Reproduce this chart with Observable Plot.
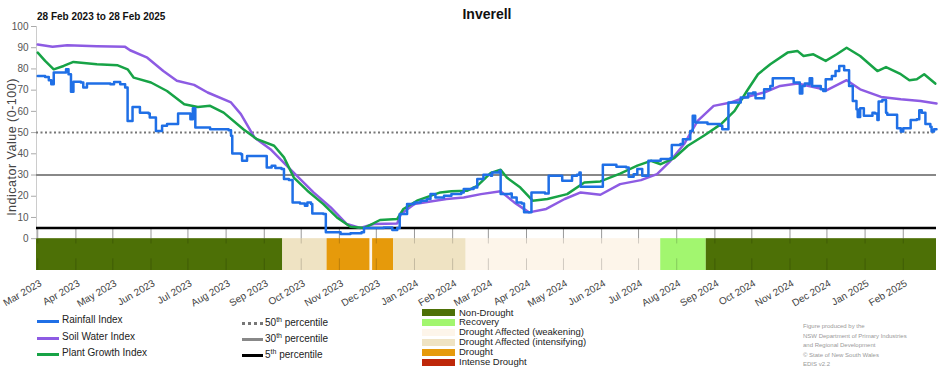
<!DOCTYPE html>
<html><head><meta charset="utf-8">
<script src="https://cdn.jsdelivr.net/npm/d3@7"></script>
<script src="https://cdn.jsdelivr.net/npm/@observablehq/plot@0.6"></script>
<style>
body{margin:0;background:#fff;font-family:"Liberation Sans",Arial,sans-serif;}
#wrap{position:relative;width:952px;height:370px;overflow:hidden;background:#fff;}
#wrap svg{position:absolute;left:0;top:0;}
.abs{position:absolute;white-space:nowrap;}
.title{left:0;width:974px;text-align:center;top:6px;font-size:14px;font-weight:bold;color:#111;}
.sub{left:37px;top:11px;font-size:10px;font-weight:bold;color:#111;}
.ylab{left:12px;top:147px;font-size:12.5px;letter-spacing:0.5px;color:#444;transform:translate(-50%,-50%) rotate(-90deg);}
.leg{font-size:10px;color:#222;line-height:12px;}
.leg sup{font-size:7px;vertical-align:top;position:relative;top:-3px;}
.ln{position:absolute;width:22px;height:0;}
.dl{font-size:9.5px;color:#222;line-height:10px;}
.sw{position:absolute;width:33px;height:7px;}
.cred{font-size:6px;color:#999;line-height:9.6px;}
</style></head><body><div id="wrap"></div>
<script>
// ---------------- data ----------------
const rainfallIndex = [
["2023-03-01",76.7],["2023-03-07",76.2],["2023-03-10",74.7],["2023-03-12",72.8],["2023-03-14",78.3],["2023-03-22",78.3],["2023-03-24",79.8],["2023-03-26",77.5],["2023-03-28",69.3],["2023-03-30",74],
["2023-04-05",73.6],["2023-04-07",71.2],["2023-04-10",73.1],["2023-04-29",72.8],["2023-05-02",73.9],["2023-05-07",72.8],["2023-05-11",71.2],["2023-05-13",55.5],["2023-05-15",55.5],["2023-05-17",62.1],
["2023-05-22",62.1],["2023-05-23",59.4],["2023-05-30",59],["2023-05-31",57.1],["2023-06-04",57.1],["2023-06-05",50.8],["2023-06-09",50.8],["2023-06-10",53.2],["2023-06-14",54],["2023-06-22",54],
["2023-06-23",59],["2023-07-02",59],["2023-07-03",56.3],["2023-07-05",61.5],["2023-07-07",52.4],["2023-07-19",51.6],["2023-08-03",51.1],["2023-08-05",48.5],["2023-08-06",40.2],["2023-08-13",39.8],
["2023-08-14",36.7],["2023-08-17",36.7],["2023-08-18",39],["2023-09-01",39],["2023-09-03",33.6],["2023-09-07",34.4],["2023-09-10",33.3],["2023-09-15",32.8],["2023-09-17",28.1],["2023-09-21",27.6],
["2023-09-24",17.1],["2023-09-30",16.6],["2023-10-04",15.5],["2023-10-06",17.1],["2023-10-09",16.3],["2023-10-10",11.9],["2023-10-19",11.6],["2023-10-21",3],["2023-11-02",2.2],["2023-11-10",2.5],
["2023-11-19",3],["2023-11-21",5],["2023-11-29",5],["2023-12-07",5.3],["2023-12-14",4.1],["2023-12-18",5],["2023-12-20",11.6],["2023-12-26",16.3],["2024-01-01",17.1],["2024-01-06",17.9],
["2024-01-11",18.7],["2024-01-14",21],["2024-01-18",19.4],["2024-01-25",20.2],["2024-01-31",21],["2024-02-08",21.8],["2024-02-10",23.4],["2024-02-18",24.1],["2024-02-21",28.1],["2024-02-26",30.1],
["2024-03-03",29.6],["2024-03-04",31.2],["2024-03-10",32],["2024-03-11",21],["2024-03-19",21.3],["2024-03-20",19.4],["2024-03-23",19.4],["2024-03-24",17.1],["2024-03-28",16.6],["2024-03-30",12.4],
["2024-04-04",12.4],["2024-04-05",21.8],["2024-04-16",21.3],["2024-04-19",29.6],["2024-04-28",29.6],["2024-04-30",27.3],["2024-05-07",27.3],["2024-05-08",29.6],["2024-05-12",30.1],["2024-05-14",31.2],
["2024-05-15",24.5],["2024-05-31",24.5],["2024-06-02",34.8],["2024-06-13",33.9],["2024-06-21",33.6],["2024-06-23",29.2],["2024-06-27",30.4],["2024-06-30",32.8],["2024-07-04",29.6],["2024-07-08",29.6],
["2024-07-09",36.7],["2024-07-19",37.5],["2024-07-27",38],["2024-07-28",44.2],["2024-08-04",44.6],["2024-08-06",46.9],["2024-08-11",46.9],["2024-08-12",50.8],["2024-08-14",57.9],["2024-08-16",54.7],
["2024-08-20",54.7],["2024-08-26",54],["2024-09-05",53.2],["2024-09-07",51.6],["2024-09-11",51.6],["2024-09-12",64.2],["2024-09-19",64.2],["2024-09-22",66.5],["2024-09-27",66.5],["2024-09-28",68.4],
["2024-10-02",68.9],["2024-10-04",66.2],["2024-10-09",66.2],["2024-10-11",70.4],["2024-10-16",72],["2024-10-18",75.6],["2024-11-03",75.6],["2024-11-04",73.6],["2024-11-08",73.6],["2024-11-09",68.4],
["2024-11-11",72],["2024-11-13",73.1],["2024-11-16",72.8],["2024-11-17",75.6],["2024-11-19",72],["2024-11-23",72],["2024-11-26",70.4],["2024-11-28",69.6],["2024-11-30",75.1],["2024-12-05",76.7],
["2024-12-08",79],["2024-12-11",81.4],["2024-12-14",81.4],["2024-12-15",79.4],["2024-12-18",79.4],["2024-12-19",72],["2024-12-22",64.9],["2024-12-25",61],["2024-12-26",57.4],["2024-12-28",61.5],
["2024-12-31",57.9],["2025-01-04",57.9],["2025-01-07",59.4],["2025-01-09",59],["2025-01-11",55.9],["2025-01-12",64.6],["2025-01-15",65.3],["2025-01-18",59.4],["2025-01-19",58.4],["2025-01-26",58.4],
["2025-01-27",52.1],["2025-01-30",50.5],["2025-02-01",52.1],["2025-02-05",52.1],["2025-02-07",55.9],["2025-02-12",56.3],["2025-02-14",60.5],["2025-02-16",59.4],["2025-02-19",54],["2025-02-23",52.7],
["2025-02-24",50.5],["2025-02-26",51.6],["2025-02-28",51.6]
];
const soilWaterIndex = [
["2023-03-01",91.5],["2023-03-13",90.5],["2023-03-25",91.2],["2023-04-18",90.7],["2023-05-11",90.4],["2023-05-15",88.8],["2023-05-29",85.3],["2023-06-11",79],["2023-06-22",74.4],["2023-07-06",72.5],
["2023-07-17",68.9],["2023-08-05",64.2],["2023-08-13",58.7],["2023-08-24",47.7],["2023-09-06",42.2],["2023-09-22",32.8],["2023-10-11",21.8],["2023-10-25",14.7],["2023-11-07",6.9],["2023-11-18",5],
["2023-11-29",6.9],["2023-12-18",7.2],["2023-12-21",11.6],["2024-01-01",16.3],["2024-01-27",18.7],["2024-02-10",19.4],["2024-02-24",21],["2024-03-11",22.3],["2024-03-22",17.1],["2024-04-03",12.4],
["2024-04-17",14],["2024-05-02",18.7],["2024-05-15",21.8],["2024-05-31",20.7],["2024-06-16",25.7],["2024-07-03",27.6],["2024-07-16",30.4],["2024-07-27",36.7],["2024-08-07",44.6],["2024-08-18",55.5],
["2024-08-31",62.6],["2024-09-14",64.2],["2024-09-25",66.5],["2024-10-11",68.9],["2024-10-24",72],["2024-11-07",73.1],["2024-11-20",71.5],["2024-12-01",70],["2024-12-17",74.7],["2024-12-28",70.4],
["2025-01-14",66.8],["2025-01-30",65.7],["2025-02-15",64.9],["2025-02-28",63.7]
];
const plantGrowthIndex = [
["2023-03-01",87.7],["2023-03-07",83.8],["2023-03-14",79.8],["2023-03-22",81.4],["2023-03-30",83.3],["2023-04-18",82.2],["2023-05-05",81.7],["2023-05-13",79.8],["2023-05-18",75.9],["2023-06-01",73.6],
["2023-06-14",69.6],["2023-06-28",63.4],["2023-07-09",62.1],["2023-07-19",62.6],["2023-07-30",59.4],["2023-08-15",51.6],["2023-08-26",46.9],["2023-09-09",43.8],["2023-09-17",38.3],["2023-09-25",28.8],
["2023-10-06",22.6],["2023-10-19",16.3],["2023-10-30",10],["2023-11-10",5.6],["2023-11-21",5],["2023-12-04",8.8],["2023-12-18",9.3],["2023-12-23",14],["2024-01-03",17.9],["2024-01-22",21.8],
["2024-01-31",22.3],["2024-02-13",22.6],["2024-02-21",24.9],["2024-03-03",31],["2024-03-11",32.5],["2024-03-16",28.8],["2024-03-27",24.1],["2024-04-06",17.9],["2024-04-18",18.7],["2024-05-04",21],
["2024-05-18",26.5],["2024-05-31",27],["2024-06-16",30.7],["2024-06-30",34.4],["2024-07-11",36.7],["2024-07-19",35.1],["2024-07-30",38],["2024-08-10",43.8],["2024-08-23",48.5],["2024-09-06",54],
["2024-09-17",60.2],["2024-09-27",69.6],["2024-10-06",77.5],["2024-10-16",82.2],["2024-10-30",87.7],["2024-11-07",88.5],["2024-11-12",86.1],["2024-11-20",86.9],["2024-11-30",83.8],["2024-12-09",86.9],
["2024-12-17",90],["2024-12-28",86.1],["2025-01-11",79],["2025-01-18",80.9],["2025-01-30",77.5],["2025-02-06",74.7],["2025-02-12",75.1],["2025-02-18",77.5],["2025-02-27",73.1]
];
const droughtStart = ["2023-02-28","2023-09-16","2023-10-22","2023-11-26","2023-11-28","2023-12-15","2024-02-12","2024-07-19","2024-08-25"];
const droughtEnd   = ["2023-09-16","2023-10-22","2023-11-26","2023-11-28","2023-12-15","2024-02-12","2024-07-19","2024-08-25","2025-02-28"];
const droughtClass = ["Non-Drought","Drought Affected (intensifying)","Drought","Drought Affected (weakening)","Drought","Drought Affected (intensifying)","Drought Affected (weakening)","Recovery","Non-Drought"];
const droughtCategories = ["Non-Drought","Recovery","Drought Affected (weakening)","Drought Affected (intensifying)","Drought","Intense Drought"];
const droughtColors = ["#4d7006","#a2f66f","#fdf5ea","#efe3c3","#e69a0b","#be2709"];
const percentiles = [50, 30, 5];
const yTicks = [0,10,20,30,40,50,60,70,80,90,100];
const monthTicks = ["2023-03-01","2023-04-01","2023-05-01","2023-06-01","2023-07-01","2023-08-01","2023-09-01","2023-10-01","2023-11-01","2023-12-01","2024-01-01","2024-02-01",
"2024-03-01","2024-04-01","2024-05-01","2024-06-01","2024-07-01","2024-08-01","2024-09-01","2024-10-01","2024-11-01","2024-12-01","2025-01-01","2025-02-01"];
const seriesNames = ["Rainfall Index","Soil Water Index","Plant Growth Index"];
const seriesColors = ["#1f6fe6","#8d5be3","#17a346"];

// ---------------- build ----------------
const parse = d3.utcParse("%Y-%m-%d");
const rows = (arr) => arr.map(([d, v]) => ({date: parse(d), value: v}));
const rain = rows(rainfallIndex), soil = rows(soilWaterIndex), plant = rows(plantGrowthIndex);
const bands = droughtStart.map((s, i) => ({x1: parse(s), x2: parse(droughtEnd[i]), cls: droughtClass[i]}));
const ticks = monthTicks.map(parse);

const chart = Plot.plot({
  width: 952, height: 305,
  marginLeft: 36, marginRight: 16, marginTop: 26, marginBottom: 35,
  style: {fontFamily: "'Liberation Sans', Arial, sans-serif", fontSize: "10px", background: "transparent", overflow: "visible"},
  x: {type: "utc", domain: [parse("2023-02-28"), parse("2025-02-28")]},
  y: {domain: [-15, 100]},
  color: {domain: droughtCategories, range: droughtColors},
  marks: [
    Plot.rect(bands, {x1: "x1", x2: "x2", y1: -15, y2: 0, fill: "cls"}),
    Plot.ruleX(ticks, {y1: 0, y2: 5, stroke: "#999", strokeWidth: 1}),
    Plot.ruleX(ticks, {y1: -2.5, y2: 0, stroke: "#000", strokeOpacity: 0.18}),
    Plot.ruleX(ticks, {y1: -15, y2: -9.5, stroke: "#000", strokeOpacity: 0.18}),
    Plot.ruleX([parse("2023-02-28")], {y1: 0, y2: 100, stroke: "#ccc"}),
    Plot.ruleY([percentiles[0]], {stroke: "#777", strokeWidth: 2, strokeDasharray: "2,2.5"}),
    Plot.ruleY([percentiles[1]], {stroke: "#888", strokeWidth: 2}),
    Plot.ruleY([percentiles[2]], {stroke: "#000", strokeWidth: 2.6}),
    Plot.axisY({ticks: yTicks, tickSize: 5, tickPadding: 3, stroke: "#aaa", fill: "#555", fontSize: 10, label: null}),
    Plot.axisX({ticks: ticks, tickFormat: d3.utcFormat("%b %Y"), tickRotate: -30, tickSize: 0, tickPadding: 5, fill: "#444", fontSize: 10, label: null, dx: 3, dy: 7}),
    Plot.line(soil, {x: "date", y: "value", stroke: seriesColors[1], strokeWidth: 2.5}),
    Plot.line(plant, {x: "date", y: "value", stroke: seriesColors[2], strokeWidth: 2.5}),
    Plot.line(rain, {x: "date", y: "value", stroke: seriesColors[0], strokeWidth: 2.5, curve: "step-after"})
  ]
});

const wrap = document.getElementById("wrap");
wrap.appendChild(chart);

function add(cls, html, left, top) {
  const d = document.createElement("div");
  d.className = "abs " + cls;
  d.innerHTML = html;
  if (left != null) d.style.left = left + "px";
  if (top != null) d.style.top = top + "px";
  wrap.appendChild(d);
  return d;
}
add("title", "Inverell");
add("sub", "28 Feb 2023 to 28 Feb 2025");
add("ylab", "Indicator Value (0-100)");

// series legend
const legY = [321, 338, 354];
seriesNames.forEach((n, i) => {
  const l = document.createElement("div");
  l.className = "ln";
  l.style.cssText += `left:37px;top:${legY[i]-1.5}px;border-top:3px solid ${seriesColors[i]};`;
  wrap.appendChild(l);
  add("leg", n, 62, legY[i] - 7);
});
// percentile legend
const pStyles = ["3px dotted #777", "3px solid #888", "3px solid #000"];
const pY = [323, 339, 355];
percentiles.forEach((p, i) => {
  const l = document.createElement("div");
  l.className = "ln";
  l.style.cssText += `left:242px;width:21px;top:${pY[i]-1.5}px;border-top:${pStyles[i]};`;
  wrap.appendChild(l);
  add("leg", `${p}<sup>th</sup> percentile`, 265, pY[i] - 6);
});
// drought legend
droughtCategories.forEach((c, i) => {
  const s = document.createElement("div");
  s.className = "sw";
  s.style.cssText += `left:422px;top:${309 + i*9.9}px;background:${droughtColors[i]};`;
  wrap.appendChild(s);
  add("dl", c, 459, 307.5 + i*9.9);
});
add("cred", "Figure produced by the<br>NSW Department of Primary Industries<br>and Regional Development<br>© State of New South Wales<br>EDIS v2.2", 803, 322);
</script></body></html>
